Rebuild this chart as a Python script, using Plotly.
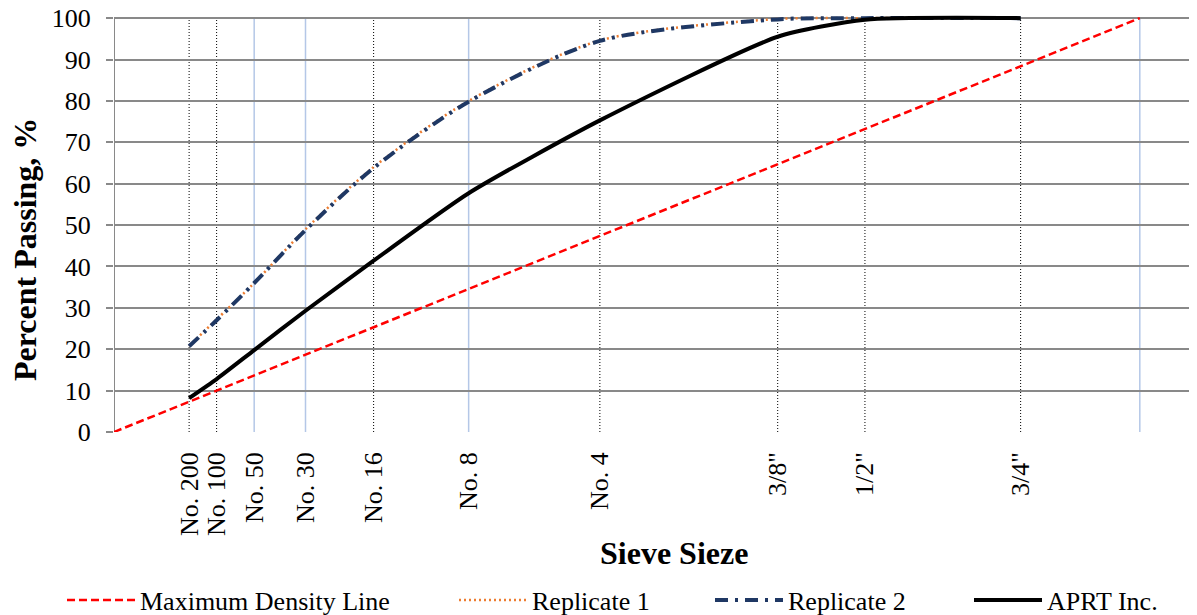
import plotly.graph_objects as go

# ---- data ----
sieve_mm = [0.075, 0.15, 0.3, 0.6, 1.18, 2.36, 4.75, 9.5, 12.5, 19.0, 25.0]
sieve_labels = ["No. 200", "No. 100", "No. 50", "No. 30", "No. 16", "No. 8",
                "No. 4", "3/8\"", "1/2\"", "3/4\"", ""]
blue_sieves = ["No. 50", "No. 30", "No. 8", ""]

rep_sizes = [0.075, 0.15, 0.3, 0.6, 1.18, 2.36, 4.75, 9.5, 12.5, 19.0]
replicate1 = [20.8, 27.2, 36.0, 49.0, 64.0, 80.0, 94.6, 99.8, 100.0, 100.0]
replicate2 = [20.7, 27.0, 36.0, 48.8, 63.8, 79.8, 94.5, 99.7, 100.0, 100.0]
aprt = [8.2, 12.8, 19.8, 29.3, 41.4, 57.7, 75.3, 95.5, 99.6, 100.0]

mdl_sizes = [0.0, 25.0]
mdl_pass = [0.0, 100.0]

POW = 0.45
def px(v):
    return [s ** POW for s in v]

FONT = "Liberation Serif, Times New Roman, serif"
# page body has an 8px margin; the figure is sized/positioned to compensate
OFF = 8
W, H = 1197 - OFF, 615 - OFF
L, B = 114 - OFF, 615 - 432
T = 6
PW = W - L
PH = H - T - B

fig = go.Figure()
fig.add_trace(go.Scatter(x=px(mdl_sizes), y=mdl_pass, mode="lines",
                         name="Maximum Density Line", legend="legend",
                         line=dict(color="#ff0000", width=2.5, dash="8px,4px")))
fig.add_trace(go.Scatter(x=px(rep_sizes), y=replicate1, mode="lines",
                         name="Replicate 1", legend="legend2",
                         line=dict(color="#ed7d31", width=2.5, dash="2px,3px",
                                   shape="spline", smoothing=0.8)))
fig.add_trace(go.Scatter(x=px(rep_sizes), y=replicate2, mode="lines",
                         name="Replicate 2", legend="legend3",
                         line=dict(color="#1f3864", width=4, dash="13px,7px,3px,7px",
                                   shape="spline", smoothing=0.8)))
fig.add_trace(go.Scatter(x=px(rep_sizes), y=aprt, mode="lines",
                         name="APRT Inc.", legend="legend4",
                         line=dict(color="#000000", width=4,
                                   shape="spline", smoothing=0.6)))

shapes = []
for s, lab in zip(sieve_mm, sieve_labels):
    if lab in blue_sieves:
        ln = dict(color="#b4c7e7", width=1.5)
    else:
        ln = dict(color="#000000", width=1, dash="1px,2px")
    shapes.append(dict(type="line", xref="x", yref="y", x0=s ** POW, x1=s ** POW,
                       y0=0, y1=100, line=ln, layer="below"))
# y axis line
shapes.append(dict(type="line", xref="x", yref="y", x0=0, x1=0, y0=0, y1=100,
                   line=dict(color="#898989", width=2), layer="below"))


def leg(sample_x):
    return dict(orientation="h", xref="container", yref="container",
                x=(sample_x - OFF - 6) / W, xanchor="left",
                y=(615 - 600) / H, yanchor="middle",
                font=dict(family=FONT, size=26), itemwidth=68,
                bgcolor="rgba(0,0,0,0)")


def pxx(x):
    return (x - OFF - L) / PW


def pxy(y):
    return (432 - y) / PH


xmax = 4.494
fig.update_layout(
    width=W, height=H,
    margin=dict(l=L, r=0, t=T, b=B, autoexpand=False),
    plot_bgcolor="white", paper_bgcolor="white",
    font=dict(family=FONT, size=26, color="black"),
    shapes=shapes,
    showlegend=True,
    legend=leg(68), legend2=leg(460), legend3=leg(716), legend4=leg(975),
    xaxis=dict(range=[0, xmax], tickmode="array",
               tickvals=[s ** POW for s in sieve_mm], ticktext=sieve_labels,
               tickangle=-90, showgrid=False, zeroline=False, showline=False,
               ticks="", tickfont=dict(family=FONT, size=26),
               ticklabelstandoff=14, automargin=False,
               ticklabeloverflow="allow"),
    yaxis=dict(range=[0, 101], tickmode="array", tickvals=list(range(0, 101, 10)),
               showgrid=True, gridcolor="#898989", gridwidth=2, zeroline=False,
               showline=False, ticks="outside", ticklen=7, tickcolor="#898989",
               tickwidth=2, tickfont=dict(family=FONT, size=26),
               ticklabelstandoff=10, automargin=False,
               ticklabeloverflow="allow"),
    annotations=[
        dict(text="<b>Percent Passing, %</b>", xref="paper", yref="paper",
             x=pxx(25), y=pxy(250), xanchor="center",
             yanchor="middle", textangle=-90, showarrow=False,
             font=dict(family=FONT, size=32)),
        dict(text="<b>Sieve Sieze</b>", xref="paper", yref="paper",
             x=pxx(674), y=pxy(553), xanchor="center",
             yanchor="middle", showarrow=False,
             font=dict(family=FONT, size=32)),
    ],
)

fig.write_html("out.html")
